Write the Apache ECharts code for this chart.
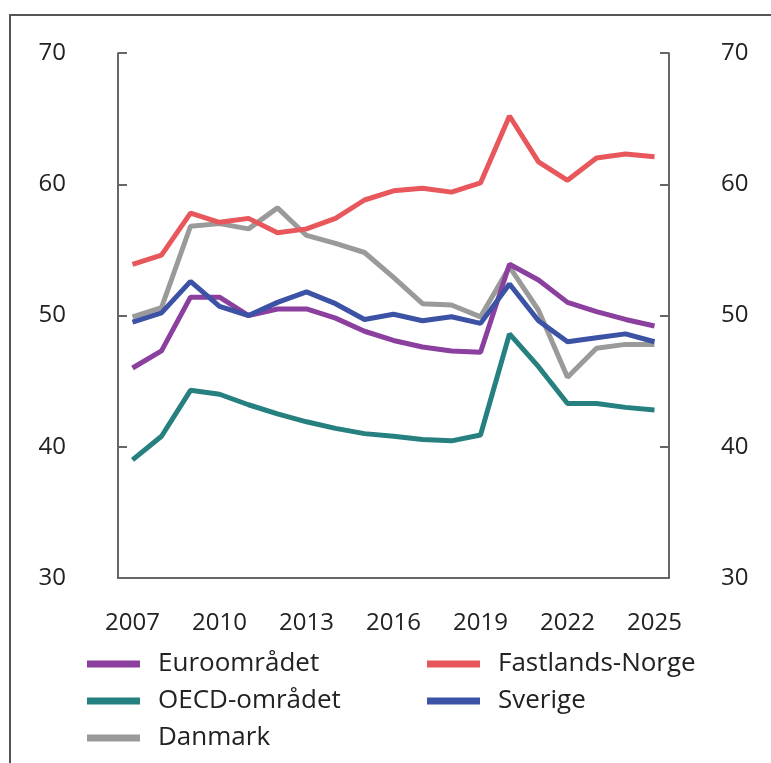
<!DOCTYPE html>
<html>
<head>
<meta charset="utf-8">
<script src="https://cdn.jsdelivr.net/npm/echarts@6/dist/echarts.min.js"></script>
<style>
  html, body { margin: 0; padding: 0; background: #fff; }
  #chart { width: 771px; height: 763px; }
</style>
</head>
<body>
<div id="chart"></div>
<script>
// årstall langs x-aksen
var years = ['2007', '2008', '2009', '2010', '2011', '2012', '2013', '2014', '2015', '2016',
  '2017', '2018', '2019', '2020', '2021', '2022', '2023', '2024', '2025'];

// seriene, lest av figuren
var euro = [46.0, 47.3, 51.4, 51.4, 50.0, 50.5, 50.5, 49.8, 48.8, 48.1, 47.6, 47.3, 47.2, 53.9, 52.7, 51.0, 50.3, 49.7, 49.2];
var oecd = [39.0, 40.8, 44.3, 44.0, 43.2, 42.5, 41.9, 41.4, 41.0, 40.8, 40.55, 40.45, 40.9, 48.6, 46.1, 43.3, 43.3, 43.0, 42.8];
var danmark = [49.9, 50.6, 56.8, 57.0, 56.6, 58.2, 56.1, 55.5, 54.8, 52.9, 50.9, 50.8, 49.9, 53.7, 50.4, 45.3, 47.5, 47.8, 47.8];
var norge = [53.9, 54.6, 57.8, 57.1, 57.4, 56.3, 56.6, 57.4, 58.8, 59.5, 59.7, 59.4, 60.1, 65.2, 61.7, 60.3, 62.0, 62.3, 62.1];
var sverige = [49.5, 50.2, 52.6, 50.7, 50.0, 51.0, 51.8, 50.9, 49.7, 50.1, 49.6, 49.9, 49.4, 52.4, 49.6, 48.0, 48.3, 48.6, 48.0];

var yTicks = { min: 30, max: 70, interval: 10 };

var font = '"Open Sans", "Noto Sans", sans-serif';
var textColor = '#222';

function yAxis(pos) {
  return {
    type: 'value',
    position: pos,
    min: yTicks.min,
    max: yTicks.max,
    interval: yTicks.interval,
    axisLine: { show: true, lineStyle: { color: '#333', width: 1.5 } },
    axisTick: { show: true, inside: true, length: 9, lineStyle: { color: '#666', width: 2 } },
    axisLabel: { color: textColor, fontSize: 24, fontFamily: font, margin: 52, align: pos === 'left' ? 'right' : 'left' },
    splitLine: { show: false }
  };
}

function line(name, data, color) {
  return {
    name: name,
    type: 'line',
    data: data,
    symbol: 'none',
    lineStyle: { color: color, width: 5 },
    itemStyle: { color: color }
  };
}

var myChart = echarts.init(document.getElementById('chart'));
var legendCommon = {
  orient: 'vertical',
  icon: 'rect',
  padding: 0,
  itemWidth: 53,
  itemHeight: 7,
  itemGap: 11,
  textStyle: { color: textColor, fontSize: 26, fontFamily: font, lineHeight: 26, padding: [0, 0, 0, 13] }
};
var option = {
  animation: false,
  graphic: [{
    type: 'rect',
    shape: { x: 10, y: 15, width: 800, height: 800 },
    style: { fill: 'none', stroke: '#555', lineWidth: 2 }
  }],
  grid: { left: 118, right: 102, top: 53, bottom: 185 },
  legend: [
    Object.assign({ left: 87, top: 651, data: ['Euroområdet', 'OECD-området', 'Danmark'] }, legendCommon),
    Object.assign({ left: 427, top: 651, data: ['Fastlands-Norge', 'Sverige'] }, legendCommon)
  ],
  xAxis: {
    type: 'category',
    data: years,
    boundaryGap: true,
    axisLine: { show: true, lineStyle: { color: '#333', width: 1.5 } },
    axisTick: { show: false },
    axisLabel: { interval: 2, color: textColor, fontSize: 24, fontFamily: font, margin: 33 }
  },
  yAxis: [yAxis('left'), yAxis('right')],
  series: [
    line('Danmark', danmark, '#9a9a9a'),
    line('OECD-området', oecd, '#26807f'),
    line('Euroområdet', euro, '#8b3f9e'),
    line('Sverige', sverige, '#3b52a5'),
    line('Fastlands-Norge', norge, '#e8575b')
  ]
};
myChart.setOption(option);
</script>
</body>
</html>
